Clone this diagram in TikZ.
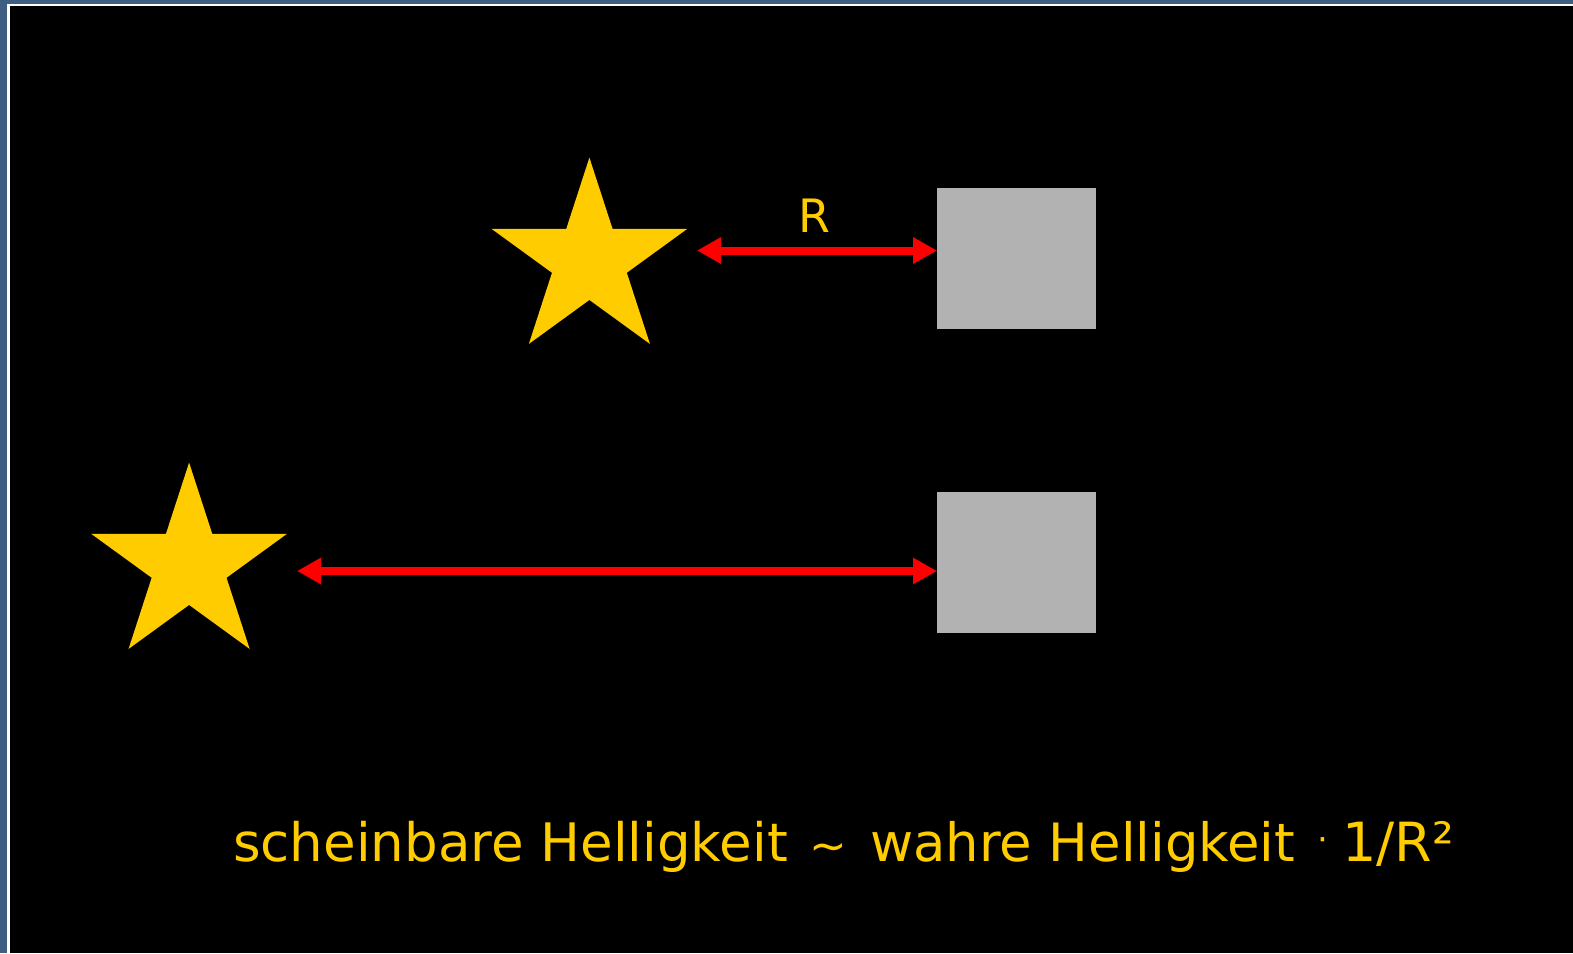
\documentclass[tikz,border=0pt]{standalone}
\usepackage{fontspec}
\setmainfont{DejaVu Sans}
\usetikzlibrary{shapes.geometric,arrows.meta,calc}
\definecolor{frameblue}{HTML}{3F5F82}
\definecolor{staryellow}{HTML}{FFCC00}
\definecolor{boxgray}{HTML}{B2B2B2}
\tikzset{
  starshape/.style={star, star points=5, star point ratio=2.618, minimum size=206pt, inner sep=0pt, fill=staryellow, draw=none},
  detector/.style={rectangle, fill=boxgray, draw=none, minimum width=158.5pt, minimum height=141.5pt, inner sep=0pt},
  distarrow/.style={draw=red, line width=8pt, {Triangle[length=24pt,width=25pt]}-{Triangle[length=24pt,width=25pt]}},
  label/.style={text=staryellow, inner sep=0pt}
}
\begin{document}
\begin{tikzpicture}[x=1pt,y=-1pt]
\useasboundingbox (0,0) rectangle (1573,953);
\fill[frameblue] (0,0) rectangle (1573,953);
\fill[white] (7,3.5) rectangle (1573,953);
\fill[black] (9.5,5.8) rectangle (1573,953);
\node[starshape] (s1) at (589.4,260.6) {};
\node[starshape] (s2) at (189.1,565.6) {};
\node[detector, anchor=north west] (b1) at (937,187.6) {};
\node[detector, anchor=north west] (b2) at (937,491.6) {};
\coordinate (a1) at (697,250.5);
\coordinate (a2) at (297,571);
\draw[distarrow] (a1) -- (b1.west |- a1);
\draw[distarrow] (a2) -- (b2.west |- a2);
\node[label, font=\fontsize{46}{50}\selectfont] (r) at (814.6,215.7) {R};
\node[label, anchor=base west, font=\fontsize{53}{60}\selectfont] (f1) at (233,861) {scheinbare Helligkeit};
\node[label, anchor=base, font=\fontsize{45}{50}\selectfont] (t) at (828.5,861) {\symbol{"7E}};
\node[label, anchor=base west, font=\fontsize{52.8}{60}\selectfont] (f2) at (870,861) {wahre Helligkeit};
\node[label, anchor=base, font=\fontsize{34}{40}\selectfont] (d) at (1323,861) {\raisebox{10pt}{·}};
\node[label, anchor=base west, font=\fontsize{54}{60}\selectfont] (f3) at (1342,861) {1/R²};
\end{tikzpicture}
\end{document}
